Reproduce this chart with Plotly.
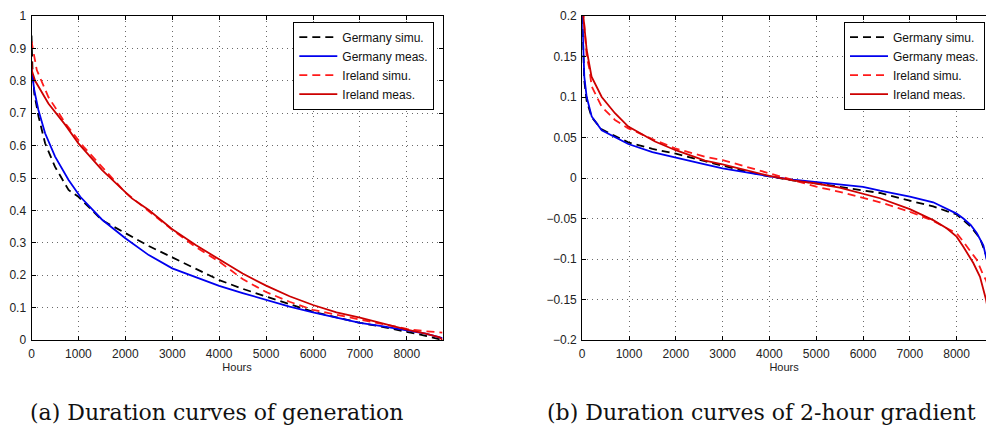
import plotly.graph_objects as go

# ---------------- data: (a) generation duration curves ----------------
ger_simu_gen_h = [0, 20, 60, 150, 290, 500, 790, 1000, 1500, 2000, 2500, 3000, 3500, 4000,
                  4500, 5000, 5500, 6000, 6500, 7000, 7500, 8000, 8400, 8760]
ger_simu_gen_v = [0.94, 0.84, 0.76, 0.69, 0.607, 0.535, 0.463, 0.442, 0.37, 0.33, 0.29, 0.255,
                  0.22, 0.185, 0.158, 0.134, 0.11, 0.087, 0.07, 0.053, 0.04, 0.026, 0.013, 0.0]

ger_meas_gen_h = [0, 60, 147, 290, 503, 790, 1040, 1500, 2000, 2500, 3000, 3500, 4000, 4500,
                  5000, 5500, 6000, 6500, 7000, 7500, 8000, 8400, 8760]
ger_meas_gen_v = [0.838, 0.77, 0.71, 0.638, 0.566, 0.494, 0.442, 0.372, 0.314, 0.262, 0.221,
                  0.194, 0.167, 0.145, 0.123, 0.103, 0.085, 0.068, 0.053, 0.042, 0.031, 0.02, 0.006]

irl_simu_gen_h = [0, 113, 360, 720, 1107, 1573, 1857, 2000, 2500, 3000, 3500, 4000, 4500, 5000,
                  5500, 6000, 6500, 7000, 7500, 8000, 8400, 8760]
irl_simu_gen_v = [0.922, 0.833, 0.75, 0.669, 0.597, 0.525, 0.478, 0.455, 0.398, 0.34, 0.287,
                  0.242, 0.188, 0.148, 0.118, 0.093, 0.078, 0.064, 0.048, 0.034, 0.027, 0.023]

irl_meas_gen_h = [0, 10, 77, 360, 720, 1000, 1500, 2140, 2500, 3000, 3500, 4000, 4500, 5000,
                  5500, 6000, 6500, 7000, 7500, 8000, 8400, 8700, 8760]
irl_meas_gen_v = [0.86, 0.83, 0.80, 0.73, 0.664, 0.607, 0.525, 0.437, 0.401, 0.342, 0.293, 0.25,
                  0.205, 0.168, 0.135, 0.108, 0.085, 0.069, 0.05, 0.032, 0.02, 0.008, 0.0]

# ---------------- data: (b) 2-hour gradient duration curves ----------------
ger_meas_grd_h = [0, 20, 45, 96, 203, 417, 985, 1500, 2000, 2600, 3000, 3500, 4000, 4500, 5000,
                  5500, 6000, 6363, 7000, 7500, 7788, 8000, 8144, 8300, 8430, 8571, 8628, 8760]
ger_meas_grd_v = [0.2, 0.15, 0.125, 0.1, 0.076, 0.059, 0.042, 0.032, 0.025, 0.017, 0.012, 0.007,
                  0.002, -0.002, -0.005, -0.008, -0.011, -0.0157, -0.023, -0.03, -0.0375, -0.044,
                  -0.05, -0.058, -0.068, -0.083, -0.097, -0.13]

ger_simu_grd_h = [0, 20, 45, 96, 203, 417, 985, 1500, 2000, 2600, 3000, 3500, 4000, 4500, 5000,
                  5500, 6000, 6363, 7000, 7500, 7788, 8000, 8300, 8500, 8628, 8760]
ger_simu_grd_v = [0.2, 0.15, 0.12, 0.095, 0.075, 0.06, 0.044, 0.036, 0.03, 0.021, 0.015, 0.008,
                  0.002, -0.003, -0.0066, -0.011, -0.015, -0.0185, -0.028, -0.035, -0.041,
                  -0.045, -0.06, -0.0745, -0.095, -0.13]

irl_meas_grd_h = [0, 24, 96, 200, 417, 700, 985, 1282, 1556, 1983, 2624, 3000, 3500, 4000, 4500,
                  5000, 5500, 6000, 6363, 7000, 7500, 7788, 8000, 8144, 8357, 8500, 8628, 8760]
irl_meas_grd_v = [0.25, 0.2, 0.158, 0.125, 0.1, 0.08, 0.0634, 0.054, 0.045, 0.0346, 0.0214,
                  0.0169, 0.01, 0.0025, -0.003, -0.0068, -0.012, -0.019, -0.025, -0.0385,
                  -0.052, -0.062, -0.0724, -0.0848, -0.105, -0.122, -0.15, -0.19]

irl_simu_grd_h = [0, 30, 96, 152, 203, 417, 700, 985, 1500, 1983, 2624, 3000, 3500, 4000, 4500,
                  5000, 5500, 6000, 6363, 7000, 7500, 7788, 8000, 8144, 8430, 8571, 8628, 8760]
irl_simu_grd_v = [0.24, 0.2, 0.15, 0.135, 0.113, 0.088, 0.0716, 0.0613, 0.048, 0.0366, 0.0263,
                  0.0222, 0.014, 0.0058, -0.003, -0.0107, -0.017, -0.025, -0.030, -0.0416,
                  -0.053, -0.062, -0.068, -0.0786, -0.101, -0.12, -0.126, -0.15]

series_names = ["Germany simu.", "Germany meas.", "Ireland simu.", "Ireland meas."]
x_ticks = [0, 1000, 2000, 3000, 4000, 5000, 6000, 7000, 8000]
y_ticks_gen = [0, 0.1, 0.2, 0.3, 0.4, 0.5, 0.6, 0.7, 0.8, 0.9, 1]
y_ticks_grd = [-0.2, -0.15, -0.1, -0.05, 0, 0.05, 0.1, 0.15, 0.2]
y_ticktext_grd = ["\u22120.2", "\u22120.15", "\u22120.1", "\u22120.05", "0", "0.05", "0.1", "0.15", "0.2"]
captions = ["(a) Duration curves of generation", "(b) Duration curves of 2-hour gradient"]

# ---------------- styles ----------------
W, H = 986, 427
DASH = "8px,5px"
styles = [
    dict(color="#000000", dash=DASH, width=1.8),
    dict(color="#0000ee", dash="solid", width=1.8),
    dict(color="#ff1a1a", dash=DASH, width=1.8),
    dict(color="#cc0000", dash="solid", width=1.8),
]
FONT = "Liberation Sans, Arial, sans-serif"
CAPFONT = dict(family="DejaVu Serif, serif", size=22, color="#111111")

fig = go.Figure()

gen_sets = [(ger_simu_gen_h, ger_simu_gen_v), (ger_meas_gen_h, ger_meas_gen_v),
            (irl_simu_gen_h, irl_simu_gen_v), (irl_meas_gen_h, irl_meas_gen_v)]
grd_sets = [(ger_simu_grd_h, ger_simu_grd_v), (ger_meas_grd_h, ger_meas_grd_v),
            (irl_simu_grd_h, irl_simu_grd_v), (irl_meas_grd_h, irl_meas_grd_v)]

for name, (hx, vy), st in zip(series_names, gen_sets, styles):
    fig.add_trace(go.Scatter(x=hx, y=vy, mode="lines", name=name, line=st,
                             xaxis="x", yaxis="y", legend="legend"))
for name, (hx, vy), st in zip(series_names, grd_sets, styles):
    fig.add_trace(go.Scatter(x=hx, y=vy, mode="lines", name=name, line=st,
                             xaxis="x2", yaxis="y2", legend="legend2"))

ydom = [(H - 340) / H, (H - 16) / H]
axis_common = dict(
    showline=True, linecolor="#000000", linewidth=1,
    ticks="inside", ticklen=4, tickcolor="#000000", tickwidth=1,
    showgrid=True, gridcolor="#6a6a6a", gridwidth=1, griddash="1px,4px",
    zeroline=False, tickfont=dict(family=FONT, size=12, color="#222222"),
)
title_font = dict(family=FONT, size=11, color="#222222")
legend_common = dict(xanchor="left", yanchor="top", bgcolor="white", bordercolor="#000000",
                     borderwidth=1, itemwidth=38, tracegroupgap=0,
                     font=dict(family=FONT, size=12, color="#111111"))

fig.update_layout(
    width=W, height=H, autosize=False,
    margin=dict(l=0, r=0, t=0, b=0, autoexpand=False),
    paper_bgcolor="white", plot_bgcolor="white",
    xaxis=dict(domain=[31.5 / W, 442.5 / W], range=[0, 8760], tickvals=x_ticks,
               mirror="all", anchor="y",
               title=dict(text="Hours", font=title_font, standoff=1),
               ticklabelstandoff=3, **axis_common),
    yaxis=dict(domain=ydom, range=[0, 1], tickvals=y_ticks_gen, mirror="all", anchor="x",
               ticklabelstandoff=2, **axis_common),
    xaxis2=dict(domain=[582.2 / W, 1.0], range=[0, 8628], tickvals=x_ticks,
                mirror="all", anchor="y2",
                title=dict(text="Hours", font=title_font, standoff=1),
                ticklabelstandoff=3, **axis_common),
    yaxis2=dict(domain=ydom, range=[-0.2, 0.2], tickvals=y_ticks_grd, ticktext=y_ticktext_grd,
                mirror=False, anchor="x2", ticklabelstandoff=2, **axis_common),
    legend=dict(x=293.3 / W, y=(H - 21.7) / H, **legend_common),
    legend2=dict(x=844 / W, y=(H - 21.7) / H, **legend_common),
    annotations=[
        dict(text=captions[0], xref="paper", yref="paper", x=28 / W, y=0,
             xanchor="left", yanchor="bottom", showarrow=False, font=CAPFONT),
        dict(text=captions[1], xref="paper", yref="paper", x=545 / W, y=0,
             xanchor="left", yanchor="bottom", showarrow=False, font=CAPFONT),
    ],
)

fig.write_html("out.html")
